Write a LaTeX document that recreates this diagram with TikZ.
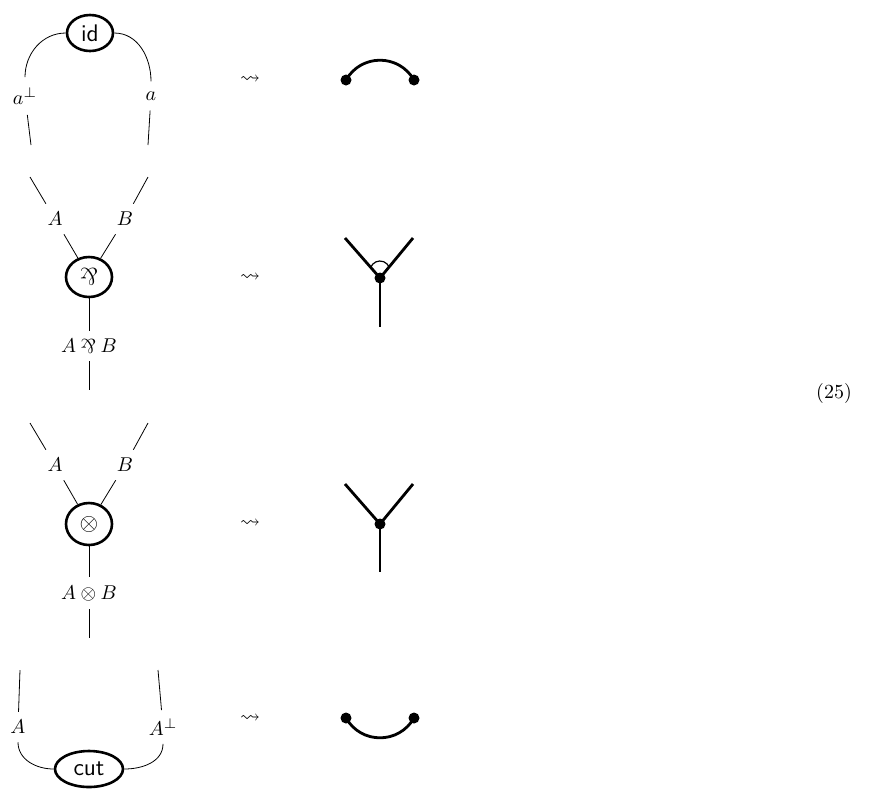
\documentclass[tikz,border=0pt]{standalone}
\usepackage{amsmath,amssymb}
\usepackage{graphicx}
\usepackage{tikz}
\usetikzlibrary{shapes.geometric}

\newcommand{\parrsym}{\mathbin{\rotatebox[origin=c]{180}{$\&$}}}

\begin{document}
\begin{tikzpicture}[
  x=0.5pt, y=-0.5pt,
  gate/.style={ellipse, draw, line width=1.3pt, fill=white, inner sep=1pt,
    font=\large\sffamily},
  lab/.style={inner sep=4pt},
  net/.style={line width=1.4pt},
  dot/.style={circle, fill, inner sep=0pt, minimum size=5.5pt}
]
  \useasboundingbox (0,0) rectangle (872,789);

  % identity axiom
  \node[gate, minimum width=23pt, minimum height=18pt] (id) at (90,33) {id};
  \node[lab, inner sep=5pt] (aperp) at (25,96) {$a^{\perp}$};
  \node[lab, inner sep=5pt] (a) at (151,96) {$a$};
  \coordinate (e1l) at (31,145);
  \coordinate (e1r) at (148,145);
  \draw (id) to[out=180,in=90] (aperp);
  \draw (id) to[out=0,in=90] (a);
  \draw (aperp) -- (e1l);
  \draw (a) -- (e1r);

  % par link
  \coordinate (t2l) at (30,177);
  \coordinate (t2r) at (148,177);
  \node[lab] (A2) at (55,219) {$A$};
  \node[lab] (B2) at (125,219) {$B$};
  \node[gate, minimum width=23pt, minimum height=20pt] (par) at (89,277) {$\parrsym$};
  \node[lab] (AB2) at (89,346) {$A \parrsym B$};
  \coordinate (b2) at (89,390);
  \draw (t2l) -- (A2) -- (par);
  \draw (t2r) -- (B2) -- (par);
  \draw (par) -- (AB2) -- (b2);

  % tensor link
  \coordinate (t3l) at (30,423);
  \coordinate (t3r) at (148,423);
  \node[lab] (A3) at (55,465) {$A$};
  \node[lab] (B3) at (125,465) {$B$};
  \node[gate, minimum width=23pt, minimum height=21pt] (ten) at (89,524) {$\otimes$};
  \node[lab] (AB3) at (89,593) {$A \otimes B$};
  \coordinate (b3) at (89,638);
  \draw (t3l) -- (A3) -- (ten);
  \draw (t3r) -- (B3) -- (ten);
  \draw (ten) -- (AB3) -- (b3);

  % cut link
  \coordinate (t4l) at (20,670);
  \coordinate (t4r) at (158,670);
  \node[lab] (A4) at (18,727) {$A$};
  \node[lab] (Ap4) at (163,727) {$A^{\perp}$};
  \node[gate, minimum width=34pt, minimum height=18pt] (cut) at (89,769) {cut};
  \draw (t4l) -- (A4) to[out=-90,in=180] (cut);
  \draw (t4r) -- (Ap4) to[out=-90,in=0] (cut);

  % arrows
  \node (s1) at (250,80) {$\leadsto$};
  \node (s2) at (250,278) {$\leadsto$};
  \node (s3) at (250,524) {$\leadsto$};
  \node (s4) at (250,719) {$\leadsto$};

  % translated graphs
  \node[dot] (d1l) at (346,80) {};
  \node[dot] (d1r) at (414,80) {};
  \draw[net] (d1l.center) to[out=60,in=120,looseness=1.15] (d1r.center);

  \coordinate (u2l) at (345,238);
  \coordinate (u2r) at (413,238);
  \coordinate (w2) at (380,327);
  \node[dot] (v2) at (380,278) {};
  \draw[net] (u2l) -- (v2.center) -- (u2r);
  \draw[net] (v2.center) -- (w2);
  \draw[line width=0.6pt] ([yshift=3.5pt]v2.center) ++(201:10)
    arc[start angle=201, end angle=339, radius=10];

  \coordinate (u3l) at (345,484);
  \coordinate (u3r) at (413,484);
  \coordinate (w3) at (380,572);
  \node[dot] (v3) at (380,524) {};
  \draw[net] (u3l) -- (v3.center) -- (u3r);
  \draw[net] (v3.center) -- (w3);

  \node[dot] (d4l) at (346,718) {};
  \node[dot] (d4r) at (414,718) {};
  \draw[net] (d4l.center) to[out=-60,in=-120,looseness=1.15] (d4r.center);

  \node (eqno) at (834,393) {(25)};
\end{tikzpicture}
\end{document}
